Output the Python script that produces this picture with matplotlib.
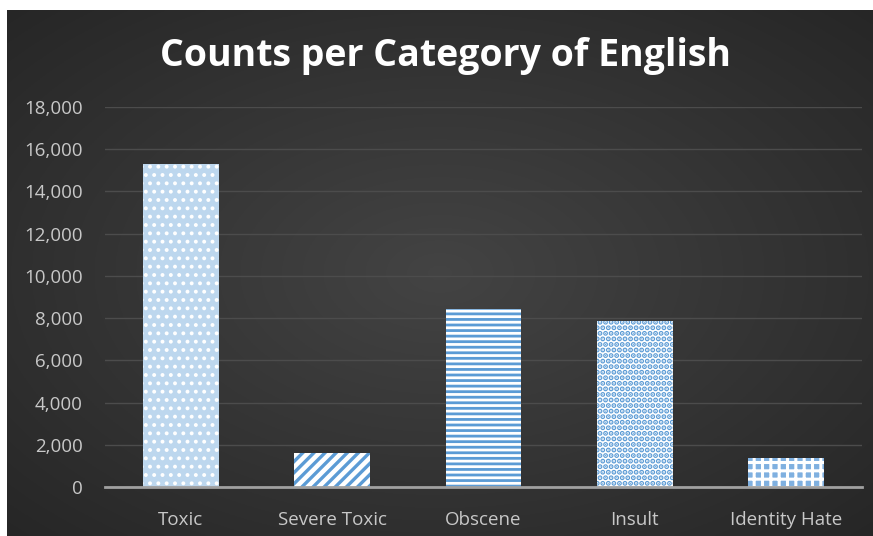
import numpy as np
import matplotlib
matplotlib.use("Agg")
import matplotlib.pyplot as plt

categories = ["Toxic", "Severe Toxic", "Obscene", "Insult", "Identity Hate"]
counts = [15300, 1610, 8430, 7860, 1370]
yticks = [0, 2000, 4000, 6000, 8000, 10000, 12000, 14000, 16000, 18000]

# face, hatch colour, hatch pattern, hatch linewidth
styles = [
    ("#bdd7ee", "#ffffff", "..", 1.6),
    ("#ffffff", "#5b9bd5", "///", 2.4),
    ("#ffffff", "#5b9bd5", "---", 2.0),
    ("#ffffff", "#5b9bd5", "...", 2.6),
    ("#7fb0e0", "#ffffff", "++", 2.2),
]

plt.rcParams["font.family"] = ["Open Sans", "DejaVu Sans"]

W, H = 873, 536
fig = plt.figure(figsize=(W / 100, H / 100), dpi=100, facecolor="white")

# dark radial background
bg = fig.add_axes([7 / W, 0, 1 - 7 / W, 1 - 10 / H])
yy, xx = np.mgrid[-1:1:300j, -1:1:500j]
r = np.sqrt(xx ** 2 + yy ** 2) / np.sqrt(2)
shade = 0.265 - 0.115 * r
bg.imshow(np.dstack([shade] * 3), aspect="auto", extent=[0, 1, 0, 1])
bg.set_axis_off()

ax = fig.add_axes([105 / W, 1 - 487 / H, (862 - 105) / W, (487 - 107) / H])
ax.patch.set_alpha(0)

x = np.arange(len(categories))
for i, (c, v) in enumerate(zip(categories, counts)):
    face, hcol, hatch, hlw = styles[i]
    with plt.rc_context({"hatch.linewidth": hlw, "hatch.color": hcol}):
        b = ax.bar(i, v, width=0.5, color=face, edgecolor=hcol, linewidth=0,
                   hatch=hatch, zorder=3)
        for p in b:
            if hasattr(p, "set_hatch_linewidth"):
                p.set_hatch_linewidth(hlw)

ax.set_xlim(-0.5, len(categories) - 0.5)
ax.set_ylim(0, 18000)
ax.set_yticks(yticks)
ax.set_yticklabels([f"{t:,}" for t in yticks])
ax.set_xticks(x)
ax.set_xticklabels(categories)
ax.tick_params(axis="both", length=0, colors="#c8c8c8", labelsize=13.5)
ax.tick_params(axis="y", pad=16)
ax.tick_params(axis="x", pad=17)
ax.grid(axis="y", color="#4c4c4c", linewidth=1, zorder=0)
for s in ["top", "right", "left"]:
    ax.spines[s].set_visible(False)
ax.spines["bottom"].set_color("#a0a0a0")
ax.spines["bottom"].set_linewidth(2)
ax.spines["bottom"].set_zorder(4)

fig.text(446 / W, 1 - 56 / H, "Counts per Category of English", ha="center",
         va="center", color="white", fontsize=27, fontweight="bold")

fig.savefig("out.png", dpi=100, facecolor="white")
